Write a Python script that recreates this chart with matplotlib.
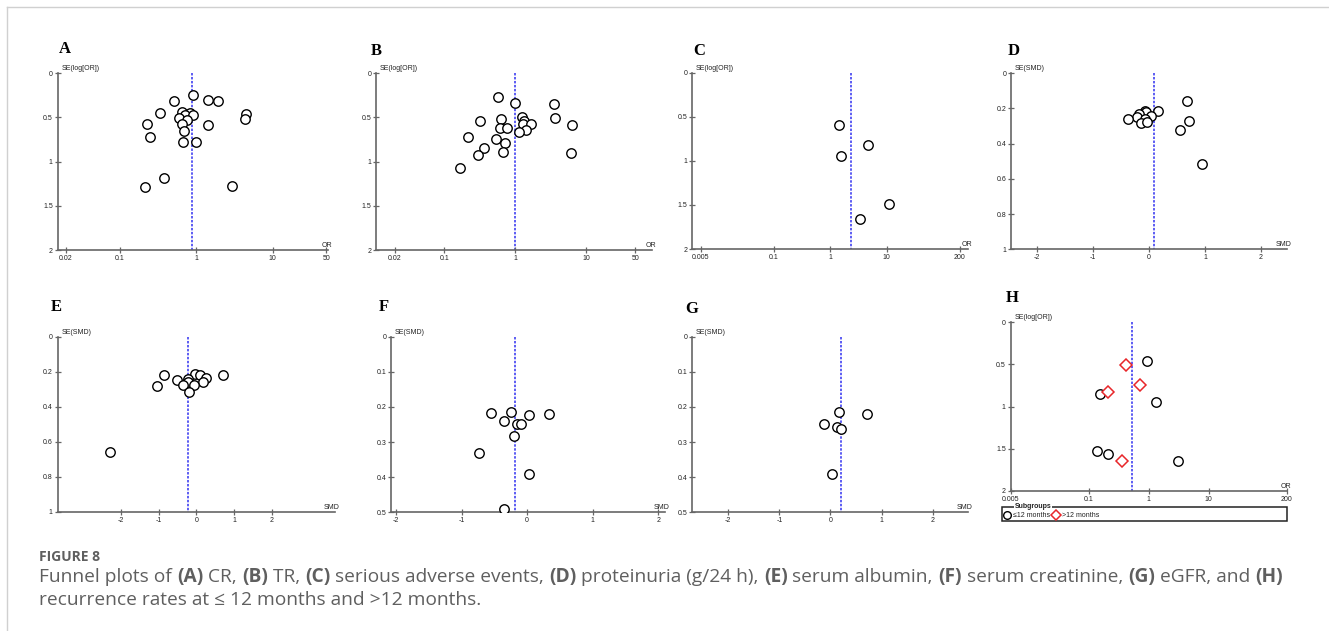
import matplotlib
matplotlib.use("Agg")
import matplotlib.pyplot as plt
from matplotlib.lines import Line2D
from matplotlib.patches import Rectangle

W, H = 1329, 631

# (A) CR
a_or = [0.90, 0.51, 1.41, 1.92, 0.34, 0.66, 0.82, 0.72, 0.90, 0.605, 0.755, 4.47,
        4.30, 0.226, 0.65, 1.41, 0.70, 0.25, 0.67, 1.01, 0.38, 0.213, 2.90]
a_se = [0.245, 0.31, 0.30, 0.31, 0.445, 0.44, 0.45, 0.475, 0.475, 0.505, 0.525, 0.46,
        0.513, 0.57, 0.57, 0.58, 0.65, 0.72, 0.774, 0.777, 1.18, 1.283, 1.28]
a_pooled = 0.877

# (B) TR
b_or = [0.574, 1.0, 3.56, 1.26, 3.68, 0.64, 0.32, 1.33, 1.31, 1.65, 6.41, 0.62,
        0.77, 1.43, 1.15, 0.214, 0.53, 0.71, 0.364, 0.67, 6.2, 0.296, 0.165]
b_se = [0.264, 0.34, 0.343, 0.494, 0.509, 0.521, 0.543, 0.543, 0.577, 0.574, 0.585, 0.623,
        0.619, 0.645, 0.664, 0.72, 0.747, 0.792, 0.842, 0.887, 0.902, 0.928, 1.068]
b_pooled = 1.01

# (C) serious adverse events
c_or = [1.41, 4.67, 1.55, 11.1, 3.32]
c_se = [0.594, 0.817, 0.949, 1.486, 1.66]
c_pooled = 2.33

# (D) proteinuria
d_smd = [0.679, 0.167, -0.071, -0.054, -0.19, -0.214, 0.042, -0.083, -0.381, 0.72,
         -0.137, -0.042, 0.56, 0.946]
d_se = [0.159, 0.212, 0.214, 0.220, 0.233, 0.246, 0.244, 0.258, 0.261, 0.273,
        0.280, 0.275, 0.322, 0.517]
d_pooled = 0.095

# (E) serum albumin
e_smd = [-0.85, -0.035, 0.106, 0.708, 0.248, -0.504, -0.212, -0.212, 0.168, -0.363,
         -0.053, -1.035, -0.195, -2.292]
e_se = [0.221, 0.215, 0.219, 0.219, 0.234, 0.248, 0.244, 0.257, 0.257, 0.276,
        0.278, 0.282, 0.318, 0.657]
e_pooled = -0.23

# (F) serum creatinine
f_smd = [-0.24, -0.55, 0.34, 0.025, -0.355, -0.16, -0.09, -0.205, -0.74, 0.03, -0.355]
f_se = [0.215, 0.218, 0.219, 0.222, 0.241, 0.248, 0.248, 0.282, 0.331, 0.392, 0.492]
f_pooled = -0.185

# (G) eGFR
g_smd = [0.163, 0.718, -0.13, 0.124, 0.202, 0.026]
g_se = [0.215, 0.221, 0.248, 0.257, 0.263, 0.392]
g_pooled = 0.215

# (H) recurrence, by follow-up subgroup
h_le12_or = [0.95, 0.155, 1.32, 0.135, 0.207, 3.09]
h_le12_se = [0.459, 0.848, 0.943, 1.529, 1.568, 1.648]
h_gt12_or = [0.417, 0.719, 0.21, 0.358]
h_gt12_se = [0.507, 0.741, 0.828, 1.651]
h_pooled = 0.53

or_ticks_ab = [0.02, 0.1, 1, 10, 50]
or_ticks_ch = [0.005, 0.1, 1, 10, 200]
smd_ticks = [-2, -1, 0, 1, 2]

fig = plt.figure(figsize=(W / 100, H / 100), dpi=100)
fig.patch.set_facecolor("white")

TICK_FONT = dict(family=["Liberation Sans", "DejaVu Sans"], size=5, color="#222222")


def box(l, t, r, b):
    return [l / W, 1 - b / H, (r - l) / W, (b - t) / H]


def funnel(rect, xlim, xticks, ymax, yticks, ylabel, xlabel, pooled, log, letter, letter_xy):
    ax = fig.add_axes(box(*rect))
    if log:
        ax.set_xscale("log")
    ax.set_xlim(*xlim)
    ax.set_ylim(ymax, 0)
    ax.set_xticks(xticks)
    ax.set_xticklabels([f"{v:g}" for v in xticks])
    ax.minorticks_off()
    ax.set_yticks(yticks)
    ax.set_yticklabels([f"{v:g}" for v in yticks])
    for s in ("top", "right"):
        ax.spines[s].set_visible(False)
    for s in ("left", "bottom"):
        ax.spines[s].set_color("#666666")
        ax.spines[s].set_linewidth(1.2)
    ax.tick_params(direction="inout", length=4, width=0.9, color="#666666", pad=1.5)
    for lab in ax.get_xticklabels() + ax.get_yticklabels():
        lab.set_fontfamily(TICK_FONT["family"])
        lab.set_fontsize(TICK_FONT["size"])
        lab.set_color(TICK_FONT["color"])
    ax.plot([pooled, pooled], [0, ymax], color="#3030f0", lw=1.1,
            linestyle=(0, (1.6, 1.0)), zorder=1)
    ax.annotate(ylabel, xy=(0, 0), xycoords=("axes fraction", "data"),
                xytext=(2.5, 0.8), textcoords="offset points", ha="left", va="bottom",
                fontsize=5, family=TICK_FONT["family"], color="#222222")
    ax.annotate(xlabel, xy=(1, ymax), xycoords=("axes fraction", "data"),
                xytext=(3, 0.8), textcoords="offset points", ha="right", va="bottom",
                fontsize=5, family=TICK_FONT["family"], color="#222222")
    fig.text(letter_xy[0] / W, 1 - letter_xy[1] / H, letter, ha="left", va="top",
             fontsize=12, fontweight="bold", family=["Liberation Serif", "DejaVu Serif"])
    return ax


def circles(ax, x, y):
    ax.plot(x, y, "o", ms=6.8, mfc="white", mec="black", mew=1.0, ls="none", zorder=3)


ax = funnel((57.7, 73.3, 328, 250), (0.0156, 52.6), or_ticks_ab, 2, [0, 0.5, 1, 1.5, 2],
            "SE(log[OR])", "OR", a_pooled, True, "A", (59, 41))
circles(ax, a_or, a_se)

ax = funnel((376, 73.3, 652, 250), (0.0108, 86), or_ticks_ab, 2, [0, 0.5, 1, 1.5, 2],
            "SE(log[OR])", "OR", b_pooled, True, "B", (371, 43))
circles(ax, b_or, b_se)

ax = funnel((692.3, 72.7, 968.3, 249), (0.00355, 282), or_ticks_ch, 2, [0, 0.5, 1, 1.5, 2],
            "SE(log[OR])", "OR", c_pooled, True, "C", (693, 43))
circles(ax, c_or, c_se)

ax = funnel((1011, 73.3, 1287.3, 249.3), (-2.47, 2.47), smd_ticks, 1,
            [0, 0.2, 0.4, 0.6, 0.8, 1], "SE(SMD)", "SMD", d_pooled, False, "D", (1008, 43))
circles(ax, d_smd, d_se)

ax = funnel((57.7, 336.7, 335, 511.7), (-3.68, 3.68), smd_ticks, 1,
            [0, 0.2, 0.4, 0.6, 0.8, 1], "SE(SMD)", "SMD", e_pooled, False, "E", (51, 299))
circles(ax, e_smd, e_se)

ax = funnel((391, 336.7, 665, 512.3), (-2.075, 2.1), smd_ticks, 0.5,
            [0, 0.1, 0.2, 0.3, 0.4, 0.5], "SE(SMD)", "SMD", f_pooled, False, "F", (379, 299))
circles(ax, f_smd, f_se)

ax = funnel((692.3, 336.7, 968.3, 512.3), (-2.706, 2.70), smd_ticks, 0.5,
            [0, 0.1, 0.2, 0.3, 0.4, 0.5], "SE(SMD)", "SMD", g_pooled, False, "G", (685, 301))
circles(ax, g_smd, g_se)

ax = funnel((1010.7, 322.3, 1286.7, 490.7), (0.0050, 198), or_ticks_ch, 2,
            [0, 0.5, 1, 1.5, 2], "SE(log[OR])", "OR", h_pooled, True, "H", (1006, 290))
circles(ax, h_le12_or, h_le12_se)
ax.plot(h_gt12_or, h_gt12_se, "D", ms=6.0, mfc="white", mec="#e8262a", mew=1.1,
        ls="none", zorder=3)

# subgroup key under panel H
lg = fig.add_axes(box(1002, 507, 1287, 521))
lg.set_xlim(0, 1)
lg.set_ylim(0, 1)
lg.axis("off")
lg.add_patch(Rectangle((0, 0), 1, 1, fill=False, ec="#222222", lw=1.1,
                       transform=lg.transAxes, clip_on=False))
lg.text(0.045, 1.0, "Subgroups", ha="left", va="center", fontsize=5, fontweight="bold",
        family=TICK_FONT["family"], color="#222222",
        bbox=dict(fc="white", ec="none", pad=0.3))
lg.plot([0.016], [0.42], "o", ms=5.5, mfc="white", mec="black", mew=1.0, clip_on=False)
lg.text(0.04, 0.42, "\u226412 months", ha="left", va="center", fontsize=5,
        family=TICK_FONT["family"], color="#222222")
lg.plot([0.19], [0.42], "D", ms=5.0, mfc="white", mec="#e8262a", mew=1.1, clip_on=False)
lg.text(0.21, 0.42, ">12 months", ha="left", va="center", fontsize=5,
        family=TICK_FONT["family"], color="#222222")

# page frame lines
fig.add_artist(Line2D([7 / W, 1], [1 - 7 / H, 1 - 7 / H], color="#d0d0d0", lw=1.0))
fig.add_artist(Line2D([7 / W, 7 / W], [0, 1 - 7 / H], color="#d0d0d0", lw=1.0))

# caption with bold panel letters
renderer = fig.canvas.get_renderer()
CAP_FONT = ["Open Sans", "DejaVu Sans"]
CAP_COLOR = "#5f5f5f"


def rich_line(x_px, base_px, segments, size):
    x = x_px
    for txt, bold in segments:
        t = fig.text(x / W, 1 - base_px / H, txt, fontsize=size, va="baseline", ha="left",
                     fontweight="bold" if bold else "normal", family=CAP_FONT,
                     color=CAP_COLOR)
        x += t.get_window_extent(renderer).width


fig.text(39 / W, 1 - 561 / H, "FIGURE 8", fontsize=10, fontweight="bold", va="baseline",
         family=CAP_FONT, color=CAP_COLOR)
rich_line(39, 582, [("Funnel plots of ", False), ("(A)", True), (" CR, ", False),
                    ("(B)", True), (" TR, ", False), ("(C)", True),
                    (" serious adverse events, ", False), ("(D)", True),
                    (" proteinuria (g/24 h), ", False), ("(E)", True),
                    (" serum albumin, ", False), ("(F)", True),
                    (" serum creatinine, ", False), ("(G)", True),
                    (" eGFR, and ", False), ("(H)", True)], 13.8)
rich_line(39, 605, [("recurrence rates at \u2264 12 months and >12 months.", False)], 13.8)

fig.savefig("out.png", dpi=100)
